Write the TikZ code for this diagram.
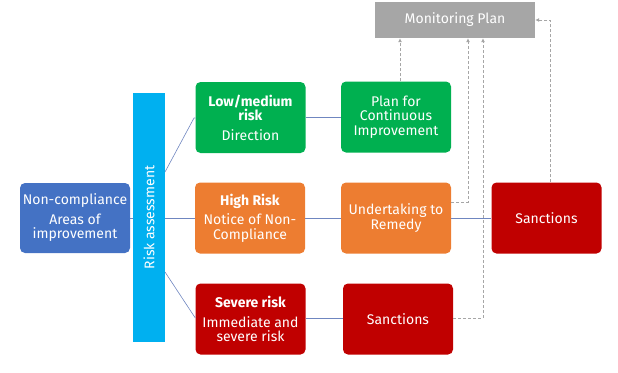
\documentclass[tikz,border=0pt]{standalone}
\usepackage{fontspec}
\setmainfont{Fira Sans}
\usepackage{tikz}
\usetikzlibrary{arrows.meta}

\definecolor{ncblue}{HTML}{4472C4}
\definecolor{barcyan}{HTML}{00B0F0}
\definecolor{lowgreen}{HTML}{00B050}
\definecolor{highorange}{HTML}{ED7D31}
\definecolor{severered}{HTML}{C00000}
\definecolor{plangray}{HTML}{A6A6A6}
\definecolor{linkblue}{HTML}{6F86C0}

\tikzset{
  box/.style={rounded corners=5pt, text=white, align=center, minimum width=110pt,
    minimum height=71pt, inner sep=2pt, font=\fontsize{14}{14.5}\selectfont},
  link/.style={draw=linkblue, line width=0.6pt},
  feed/.style={draw=plangray, dash pattern=on 3pt off 2pt, line width=0.8pt, -{Latex[length=4pt,width=4pt]}},
}

\begin{document}
\begin{tikzpicture}[x=1pt, y=-1pt]
                    \useasboundingbox (0,0) rectangle (618,372);
                    \node[box, fill=ncblue, minimum height=70pt] (noncomp) at (75,218) {Non-compliance\\[5pt]Areas of\\improvement};
                    \node[fill=barcyan, text=white, rotate=90, minimum width=249pt, minimum height=32pt, inner sep=0pt, font=\fontsize{14}{15}\selectfont] (risk) at (149,217.5) {Risk assessment};
                    \node[box, fill=lowgreen] (low) at (250.5,117.5) {\textbf{Low/medium}\\\textbf{risk}\\[5pt]Direction};
                    \node[box, fill=lowgreen] (plan) at (396,117) {Plan for\\Continuous\\Improvement};
                    \node[box, fill=highorange] (high) at (250,218) {\textbf{High Risk}\\[5pt]Notice of Non-\\Compliance};
                    \node[box, fill=highorange] (under) at (396,218) {Undertaking to\\Remedy};
                    \node[box, fill=severered] (severe) at (250.5,319) {\textbf{Severe risk}\\[5pt]Immediate and\\severe risk};
                    \node[box, fill=severered] (sanc1) at (398,319) {Sanctions};
                    \node[box, fill=severered] (sanc2) at (546.5,218) {Sanctions};
                    \node[fill=plangray, text=white, minimum width=160pt, minimum height=36pt, inner sep=0pt, font=\fontsize{14}{15}\selectfont] (monitor) at (455,20) {Monitoring Plan};
                    \coordinate (rup) at (165,172);
                    \coordinate (rdown) at (165,272);
                    % solid links
                    \draw[link] (noncomp.east) -- (risk.north |- noncomp.east);
                    \draw[link] (rup) -- (194,118) -- (low.west |- 0,118);
                    \draw[link] (risk.south |- high.west) -- (high.west);
                    \draw[link] (rdown) -- (low.west |- 0,318);
                    \draw[link] (low.east |- 0,117) -- (plan.west |- 0,117);
                    \draw[link] (high.east) -- (under.west);
                    \draw[link] (under.east) -- (sanc2.west);
                    \draw[link] (severe.east |- 0,318) -- (sanc1.west |- 0,318);
                    % feedback to the monitoring plan
                    \draw[feed] (plan.north -| 400,0) -- (monitor.south -| 400,0);
                    \draw[feed] (under.east |- 0,202) -- (468,202) -- (monitor.south -| 468,0);
                    \draw[feed] (sanc1.east |- 0,318) -- (483,318) -- (monitor.south -| 483,0);
                    \draw[feed] (sanc2.north -| 550,0) -- (550,20) -- (monitor.east);
                \end{tikzpicture}
\end{document}
